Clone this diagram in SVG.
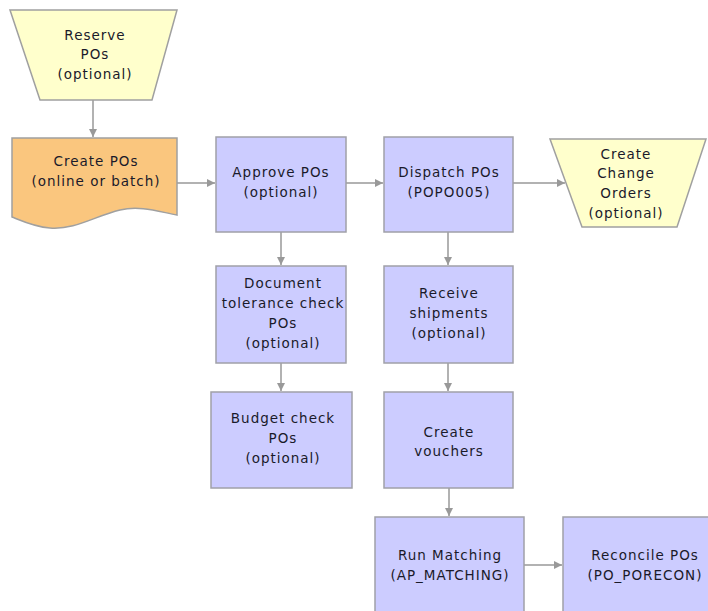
<svg xmlns="http://www.w3.org/2000/svg" width="708" height="611" viewBox="0 0 708 611">
<defs>
<marker id="arr" markerWidth="8" markerHeight="8" refX="8" refY="4" orient="auto" markerUnits="userSpaceOnUse">
<path d="M0,0 L8,4 L0,8 Z" fill="#999999"/>
</marker>
<style>
.blue{fill:#ccccff;stroke:#a0a0a8;stroke-width:1.5}
.yel{fill:#ffffcc;stroke:#a0a0a0;stroke-width:1.5}
.org{fill:#fac67e;stroke:#a0a0a0;stroke-width:1.5}
text{font-family:"DejaVu Sans","Liberation Sans",sans-serif;font-size:13.5px;letter-spacing:1px;fill:#1a1a2a;text-anchor:middle}
.c{fill:none;stroke:#999999;stroke-width:1.5;marker-end:url(#arr)}
</style>
</defs>
<rect width="708" height="611" fill="#ffffff"/>
<g id="connectors">
<line class="c" x1="93" y1="100" x2="93" y2="137"/>
<line class="c" x1="177" y1="183" x2="215" y2="183"/>
<line class="c" x1="346" y1="183" x2="383" y2="183"/>
<line class="c" x1="513" y1="183" x2="565" y2="183"/>
<line class="c" x1="281" y1="232" x2="281" y2="265"/>
<line class="c" x1="281" y1="363" x2="281" y2="391"/>
<line class="c" x1="448" y1="232" x2="448" y2="265"/>
<line class="c" x1="448" y1="363" x2="448" y2="391"/>
<line class="c" x1="449" y1="488" x2="449" y2="516"/>
<line class="c" x1="524" y1="565" x2="562" y2="565"/>
</g>
<g id="reserve">
<polygon class="yel" points="10,10 177,10 152,100 40,100"/>
<text x="95" y="40">Reserve</text>
<text x="95" y="59">POs</text>
<text x="95" y="79">(optional)</text>
</g>
<g id="create">
<path class="org" d="M12,138 L177,138 L177,215 C160,212 140,205 120,210 C95,216 75,230 50,228 C35,227 22,221 12,217 Z"/>
<text x="96" y="166">Create POs</text>
<text x="96" y="186">(online or batch)</text>
</g>
<g id="approve">
<rect class="blue" x="216" y="137" width="130" height="95"/>
<text x="281" y="177">Approve POs</text>
<text x="281" y="197">(optional)</text>
</g>
<g id="dispatch">
<rect class="blue" x="384" y="137" width="129" height="95"/>
<text x="449" y="177">Dispatch POs</text>
<text x="449" y="197">(POPO005)</text>
</g>
<g id="change">
<polygon class="yel" points="550,139 706,139 677,227 582,227"/>
<text x="626" y="159">Create</text>
<text x="626" y="178">Change</text>
<text x="626" y="198">Orders</text>
<text x="626" y="218">(optional)</text>
</g>
<g id="tolerance">
<rect class="blue" x="216" y="266" width="130" height="97"/>
<text x="283" y="288">Document</text>
<text x="283" y="308">tolerance check</text>
<text x="283" y="328">POs</text>
<text x="283" y="348">(optional)</text>
</g>
<g id="budget">
<rect class="blue" x="211" y="392" width="141" height="96"/>
<text x="283" y="423">Budget check</text>
<text x="283" y="443">POs</text>
<text x="283" y="463">(optional)</text>
</g>
<g id="receive">
<rect class="blue" x="384" y="266" width="129" height="97"/>
<text x="449" y="298">Receive</text>
<text x="449" y="318">shipments</text>
<text x="449" y="338">(optional)</text>
</g>
<g id="vouchers">
<rect class="blue" x="384" y="392" width="129" height="96"/>
<text x="449" y="437">Create</text>
<text x="449" y="456">vouchers</text>
</g>
<g id="matching">
<rect class="blue" x="375" y="517" width="149" height="100"/>
<text x="450" y="560">Run Matching</text>
<text x="450" y="580">(AP_MATCHING)</text>
</g>
<g id="reconcile">
<rect class="blue" x="563" y="517" width="160" height="100"/>
<text x="645" y="560">Reconcile POs</text>
<text x="645" y="580">(PO_PORECON)</text>
</g>
</svg>
